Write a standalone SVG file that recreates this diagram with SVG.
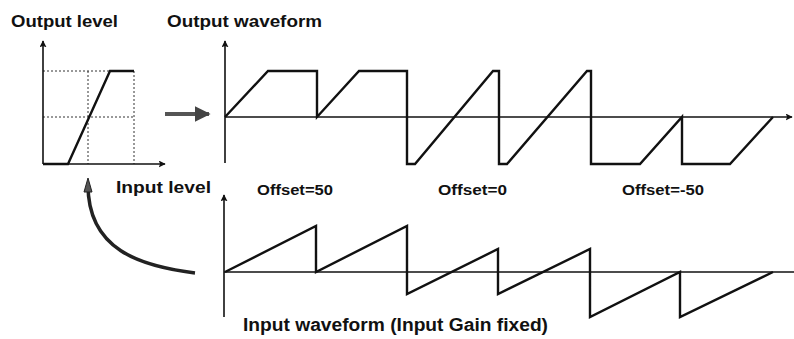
<svg xmlns="http://www.w3.org/2000/svg" width="794" height="339" viewBox="0 0 794 339">
<style>
text{font-family:"Liberation Sans",Arial,sans-serif;font-weight:bold;fill:#111}
.ax{stroke:#111;stroke-width:1.6;fill:none}
.wv{stroke:#111;stroke-width:2.4;fill:none;stroke-linejoin:miter}
.dot{stroke:#333;stroke-width:1;stroke-dasharray:2 2;fill:none}
</style>
<defs>
<marker id="ah" viewBox="0 0 10 10" refX="9" refY="5" markerWidth="7" markerHeight="7" markerUnits="userSpaceOnUse" orient="auto">
<path d="M0,0 L10,5 L0,10 L2,5 Z" fill="#111"/>
</marker>
<marker id="ah2" viewBox="0 0 10 10" refX="9" refY="5" markerWidth="4" markerHeight="4" orient="auto">
<path d="M0,0 L10,5 L0,10 Z" fill="#444"/>
</marker>
</defs>

<g id="transfer-graph">
<text x="11" y="27" font-size="16" textLength="107" lengthAdjust="spacingAndGlyphs">Output level</text>
<line class="dot" x1="43" y1="71" x2="110" y2="71"/>
<line class="dot" x1="43" y1="117" x2="134" y2="117"/>
<line class="dot" x1="134" y1="71" x2="134" y2="164"/>
<line class="dot" x1="88" y1="71" x2="88" y2="164" stroke-dasharray="4 4"/>
<line class="ax" x1="43" y1="164" x2="43" y2="41" stroke-width="2" marker-end="url(#ah)"/>
<line class="ax" x1="43" y1="164" x2="165" y2="164" stroke-width="2" marker-end="url(#ah)"/>
<polyline class="wv" points="43,164 68,164 110,71 134,71" stroke-width="3"/>
<text x="116" y="193" font-size="17" textLength="95" lengthAdjust="spacingAndGlyphs">Input level</text>
</g>

<g id="output-waveform">
<text x="167" y="27" font-size="16" textLength="155" lengthAdjust="spacingAndGlyphs">Output waveform</text>
<line class="ax" x1="225" y1="163" x2="225" y2="41" marker-end="url(#ah)"/>
<line class="ax" x1="225" y1="117" x2="792" y2="117" marker-end="url(#ah)"/>
<polyline class="wv" points="225,117 268,71 317,71 317,117 359,71 407,71 407,164 415,164 493,71 499,71 499,164 507,164 587,71 591,71 591,164 640,164 682,117 682,164 730,164 773,117"/>
</g>

<g id="offset-labels">
<text x="257" y="195" font-size="14" textLength="76" lengthAdjust="spacingAndGlyphs">Offset=50</text>
<text x="438" y="195" font-size="14" textLength="69" lengthAdjust="spacingAndGlyphs">Offset=0</text>
<text x="622" y="195" font-size="14" textLength="82" lengthAdjust="spacingAndGlyphs">Offset=-50</text>
</g>

<g id="input-waveform">
<line class="ax" x1="224" y1="317" x2="224" y2="195" marker-end="url(#ah)"/>
<line class="ax" x1="224" y1="272" x2="794" y2="272"/>
<polyline class="wv" points="225,272 316,226 316,272 407,226 407,294 498,249 498,294 590,249 590,317 680,272 680,317 773,272"/>
<text x="243" y="331" font-size="17.5" textLength="305" lengthAdjust="spacingAndGlyphs">Input waveform (Input Gain fixed)</text>
</g>

<g id="connectors">
<line x1="165" y1="114" x2="209" y2="114" stroke="#555" stroke-width="4" marker-end="url(#ah2)"/>
<path d="M195,273 C140,266 88,250 88,185" fill="none" stroke="#222" stroke-width="3.5"/>
<path d="M88,178 L84,192 L92,192 Z" fill="#555" stroke="#222" stroke-width="1"/>
</g>
</svg>
